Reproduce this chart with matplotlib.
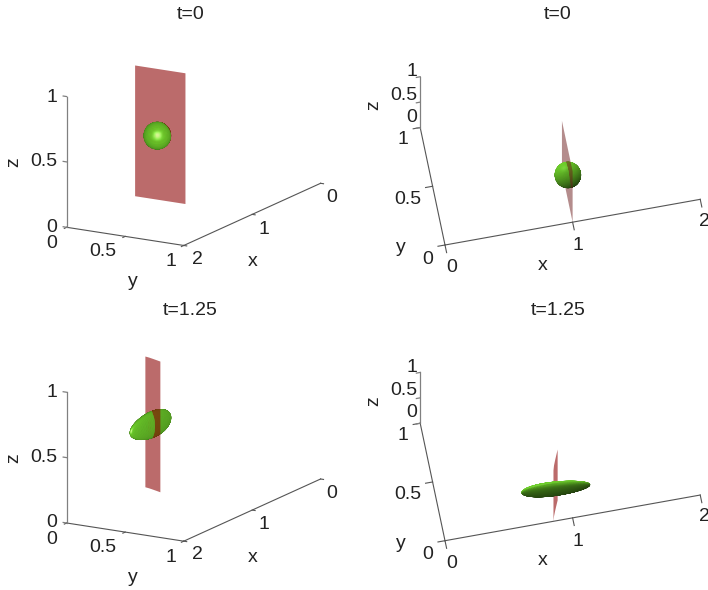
"""Four 3D views of a material plane and a sphere sheared into an ellipsoid."""
import matplotlib

matplotlib.use("Agg")
import matplotlib.pyplot as plt  # noqa: E402
import numpy as np  # noqa: E402
from mpl_toolkits.mplot3d import proj3d  # noqa: E402
from mpl_toolkits.mplot3d.art3d import Poly3DCollection  # noqa: E402

W_PX, H_PX = 708, 590
FONT = "Liberation Sans"
TEXT_C = "#222222"

X_TICKS = [0, 1, 2]
Y_TICKS = [0, 0.5, 1]
Z_TICKS = [0, 0.5, 1]
X_LABELS = ["0", "1", "2"]
Y_LABELS = ["0", "0.5", "1"]
Z_LABELS = ["0", "0.5", "1"]

# plane trace in the xy plane (it spans z = 0..1)
PLANE_T0_X = [1.0, 1.0]
PLANE_T0_Y = [0.0, 0.43]
PLANE_T1_X = [0.85, 0.862, 0.878, 0.895, 0.915]
PLANE_T1_Y = [0.0, 0.04, 0.08, 0.12, 0.166]

# body: centre, semi axes, rotation in xy (degrees), taper along the long axis
BODY_T0_CENTER = [1.0, 0.19, 0.49]
BODY_T0_AXES = [0.1, 0.1, 0.1]
BODY_T0_ANGLE = 0.0
BODY_T0_TAPER = 0.0
BODY_T1_CENTER = [0.88, 0.06, 0.49]
BODY_T1_AXES = [0.265, 0.04, 0.1]
BODY_T1_ANGLE = -3.7
BODY_T1_TAPER = 0.12

BODY_RGB = np.array([0.38, 0.71, 0.15])
PLANE_RGBA = (0.54, 0.0, 0.0, 0.58)
PLANE_PALE_RGBA = (0.42, 0.1, 0.1, 0.5)

# layout of the two view types, in reference pixels (top row)
VIEW_SIDE = dict(
    elev=15.4, azim=30.3, scale=135.6, anchor=(2, 0, 0), anchor_px=(66.7, 227.3),
    light=(0.8, 0.5, 0.3), spec=0.45,
    corner=(2, 0), x_edge_y=1, y_edge_x=2, x_dir=(0, 0.025), y_dir=(0.035, 0), z_dir=(0, -0.03),
    x_txt=[(332, 198), (264, 229), (197, 259)],
    y_txt=[(52, 244), (103, 252), (171, 262)],
    z_txt=[(52, 227), (44, 162), (52, 97)],
    x_lab=(253, 262), y_lab=(133, 282), z_lab=(14, 162), title=(190.5, 14.5),
)
VIEW_TOP = dict(
    elev=67.0, azim=-101.0, scale=130.0, anchor=(0, 0, 0), anchor_px=(445, 245),
    light=(-0.29, 0.6, 0.55), spec=0.08,
    corner=(0, 1), x_edge_y=0, y_edge_x=0, x_dir=(0, -0.065), y_dir=(-0.055, 0), z_dir=(-0.03, 0),
    x_txt=[(452, 268), (578, 246), (704, 221)],
    y_txt=[(428, 259), (408, 199), (403, 140)],
    z_txt=[(412, 117), (404, 95), (412, 72)],
    x_lab=(543, 265), y_lab=(401, 248), z_lab=(374, 105), title=(558, 14.5),
)
ROW_DY = 295.7


def _px(ax, x, y, z):
    xs, ys, _ = proj3d.proj_transform(x, y, z, ax.get_proj())
    return ax.transData.transform((xs, ys))


def _set_box(ax, left, bottom, size):
    ax.set_position([left / W_PX, bottom / H_PX, size / W_PX, size / H_PX])
    ax.apply_aspect()


def _fit(ax, view, dy):
    """Size and shift the 3D axes so the box lands on the reference pixels."""
    size = 600.0
    _set_box(ax, 0, 0, size)
    o = _px(ax, 0, 0, 0)
    sx = _px(ax, 1, 0, 0)[0] - o[0]
    sy = _px(ax, 0, 1, 0)[0] - o[0]
    size *= view["scale"] / np.hypot(sx, sy)
    _set_box(ax, 0, 0, size)
    cur = _px(ax, *view["anchor"])
    want = (view["anchor_px"][0], H_PX - (view["anchor_px"][1] + dy))
    _set_box(ax, want[0] - cur[0], want[1] - cur[1], size)


def _label(x, y, s, dy=0.0, **kw):
    plt.gcf().text(x / W_PX, 1 - (y + dy) / H_PX, s, ha="center", va="center",
                   fontsize=14, family=FONT, color=TEXT_C, **kw)


def _body_facets(center, axes, angle, taper, cam, view):
    u = np.linspace(0, 2 * np.pi, 73)
    v = np.linspace(0, np.pi, 49)
    uu, vv = np.meshgrid(u, v)
    a, b, c = axes
    along = np.cos(uu) * np.sin(vv)
    thin = 1 - taper * along
    ex, ey, ez = a * along, b * np.sin(uu) * np.sin(vv) * thin, c * np.cos(vv) * thin
    nx, ny, nz = ex / a**2, ey / b**2, ez / c**2
    th = np.radians(angle)
    px = center[0] + ex * np.cos(th) - ey * np.sin(th)
    py = center[1] + ex * np.sin(th) + ey * np.cos(th)
    pz = center[2] + ez
    grid = np.dstack([px, py, pz])
    normals = np.dstack([nx * np.cos(th) - ny * np.sin(th),
                         nx * np.sin(th) + ny * np.cos(th), nz])
    quads = np.stack([grid[:-1, :-1], grid[:-1, 1:], grid[1:, 1:], grid[1:, :-1]], axis=2)
    quads = quads.reshape(-1, 4, 3)
    n = (normals[:-1, :-1] + normals[1:, 1:]).reshape(-1, 3)
    n /= np.linalg.norm(n, axis=1, keepdims=True) + 1e-12
    light = np.array(view["light"])
    light = light / np.linalg.norm(light)
    half = light + cam
    half /= np.linalg.norm(half)
    wrap = 0.5 + 0.5 * (n @ light)
    spec = np.clip(n @ half, 0, 1) ** 30
    rgb = BODY_RGB[None, :] * (0.3 + 0.85 * wrap)[:, None] + view["spec"] * spec[:, None]
    return quads, np.clip(rgb, 0, 1)


def _draw_frame(ax, view):
    line = dict(color="#555555", lw=0.8, zorder=1)
    cx, cy = view["corner"]
    ye = view["x_edge_y"]
    xe = view["y_edge_x"]
    ax.plot([X_TICKS[0], X_TICKS[-1]], [ye, ye], [0, 0], **line)
    ax.plot([xe, xe], [Y_TICKS[0], Y_TICKS[-1]], [0, 0], **line)
    ax.plot([cx, cx], [cy, cy], [Z_TICKS[0], Z_TICKS[-1]], color="#808080", lw=0.9, zorder=1)
    for t in X_TICKS:
        ax.plot([t, t], [ye, ye + view["x_dir"][1]], [0, 0], **line)
    for t in Y_TICKS:
        ax.plot([xe, xe + view["y_dir"][0]], [t, t], [0, 0], **line)
    for t in Z_TICKS:
        ax.plot([cx + view["z_dir"][0], cx], [cy + view["z_dir"][1], cy], [t, t],
                color="#808080", lw=0.9, zorder=1)


def draw_panel(fig, view, dy, title, plane_x, plane_y, center, axes, angle, taper,
               plane_rgba=PLANE_RGBA, plane_behind=False, cut=0.0):
    ax = fig.add_axes([0, 0, 1, 1], projection="3d", proj_type="ortho", computed_zorder=False)
    ax.patch.set_alpha(0)
    ax.set_axis_off()
    ax.set_box_aspect((2, 1, 1))
    ax.view_init(elev=view["elev"], azim=view["azim"])

    el, az = np.radians(view["elev"]), np.radians(view["azim"])
    cam = np.array([np.cos(el) * np.cos(az), np.cos(el) * np.sin(az), np.sin(el)])
    quads, rgb = _body_facets(center, axes, angle, taper, cam, view)
    mid = quads.mean(axis=1)
    side = (mid[:, 0] - np.interp(mid[:, 1], plane_y, plane_x)) * cam[0]
    back, front = side <= -cut, side > -cut
    if plane_behind:
        back, front = np.zeros_like(back), np.ones_like(front)

    _draw_frame(ax, view)
    ax.add_collection3d(Poly3DCollection(quads[back], facecolors=rgb[back], edgecolors=rgb[back],
                                         linewidths=0.25, zorder=2))
    outline = [(x, y, 0) for x, y in zip(plane_x, plane_y)]
    outline += [(x, y, 1) for x, y in zip(plane_x[::-1], plane_y[::-1])]
    ax.add_collection3d(Poly3DCollection([outline], facecolors=[plane_rgba], edgecolors="none",
                                         zorder=3))
    ax.add_collection3d(Poly3DCollection(quads[front], facecolors=rgb[front], edgecolors=rgb[front],
                                         linewidths=0.25, zorder=4))
    ax.set_xlim(X_TICKS[0], X_TICKS[-1])
    ax.set_ylim(Y_TICKS[0], Y_TICKS[-1])
    ax.set_zlim(Z_TICKS[0], Z_TICKS[-1])
    _fit(ax, view, dy)

    for s, (x, y) in zip(X_LABELS, view["x_txt"]):
        _label(x, y, s, dy)
    for s, (x, y) in zip(Y_LABELS, view["y_txt"]):
        _label(x, y, s, dy)
    for s, (x, y) in zip(Z_LABELS, view["z_txt"]):
        _label(x, y, s, dy)
    _label(*view["x_lab"], "x", dy)
    _label(*view["y_lab"], "y", dy)
    _label(*view["z_lab"], "z", dy, rotation=90)
    _label(*view["title"], title, dy)


def main():
    fig = plt.figure(figsize=(W_PX / 100, H_PX / 100), dpi=100, facecolor="white")
    t0 = (PLANE_T0_X, PLANE_T0_Y, BODY_T0_CENTER, BODY_T0_AXES, BODY_T0_ANGLE, BODY_T0_TAPER)
    t1 = (PLANE_T1_X, PLANE_T1_Y, BODY_T1_CENTER, BODY_T1_AXES, BODY_T1_ANGLE, BODY_T1_TAPER)
    draw_panel(fig, VIEW_SIDE, 0, "t=0", *t0, cut=0.025)
    draw_panel(fig, VIEW_TOP, 0, "t=0", *t0, plane_rgba=PLANE_PALE_RGBA)
    draw_panel(fig, VIEW_SIDE, ROW_DY, "t=1.25", *t1)
    draw_panel(fig, VIEW_TOP, ROW_DY, "t=1.25", *t1, plane_behind=True)
    fig.savefig("out.png", dpi=100, facecolor="white")
    plt.close(fig)


if __name__ == "__main__":
    main()
